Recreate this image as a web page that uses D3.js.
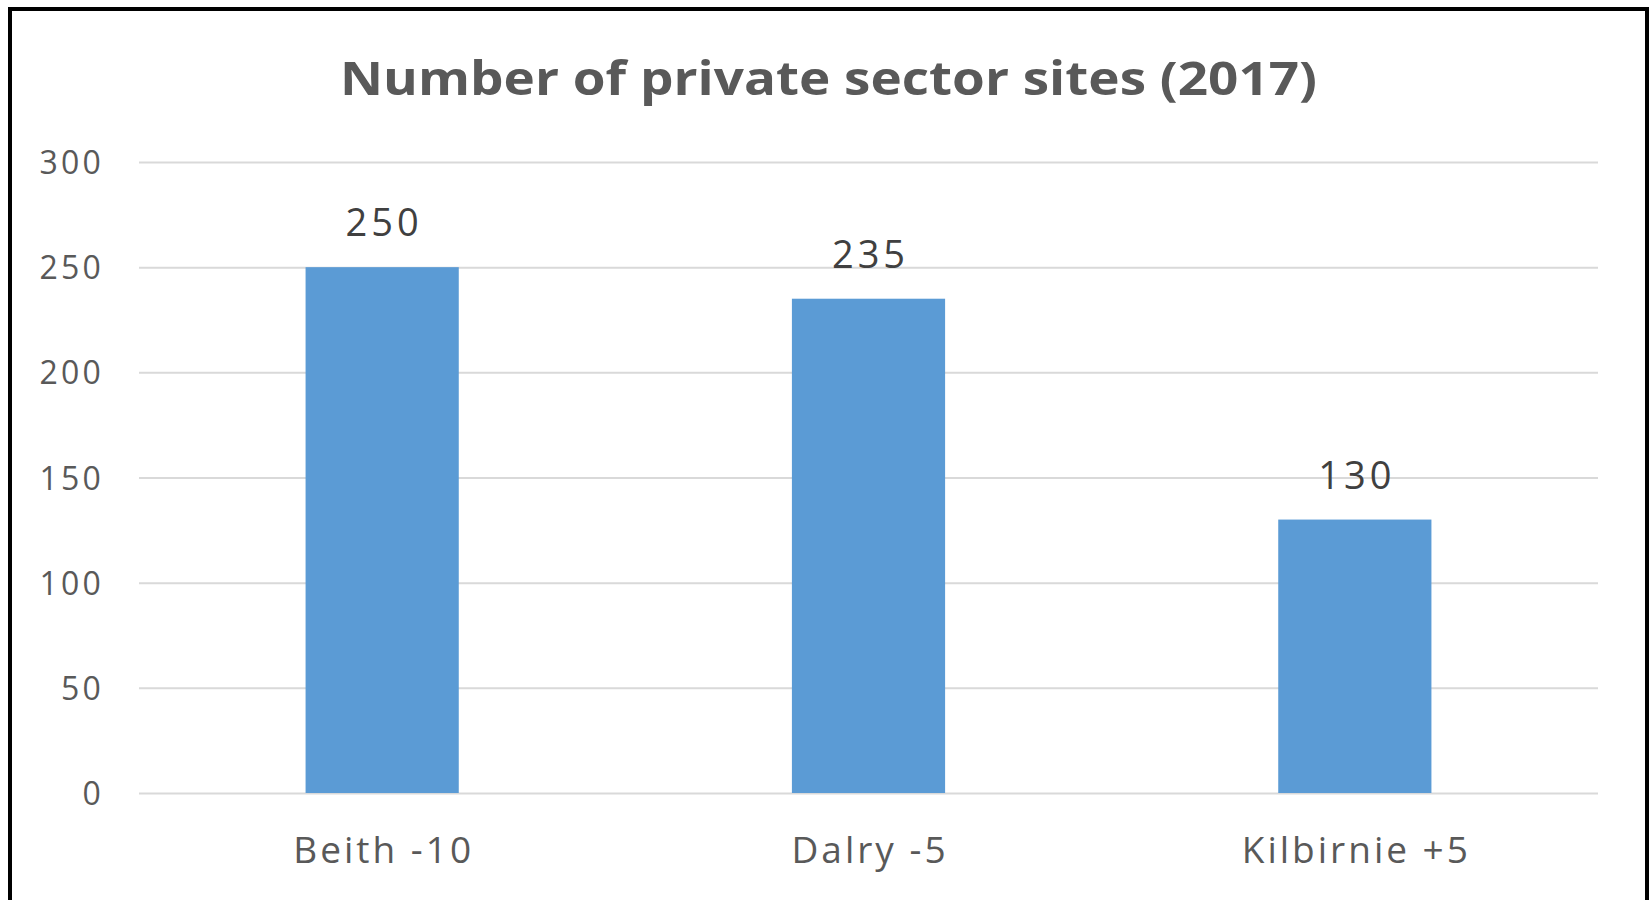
<!DOCTYPE html>
<html>
<head>
<meta charset="utf-8">
<script src="https://cdn.jsdelivr.net/npm/d3@7"></script>
<style>
  html, body { margin: 0; padding: 0; background: #fff; }
  svg { display: block; }
</style>
</head>
<body>
<svg id="chart" width="1649" height="900"></svg>
<script>
const categories = ["Beith -10", "Dalry -5", "Kilbirnie +5"];
const values = [250, 235, 130];
const yTicks = [0, 50, 100, 150, 200, 250, 300];
const titleText = "Number of private sector sites (2017)";

const svg = d3.select("#chart");

// frame
svg.append("rect")
  .attr("x", 10).attr("y", 9)
  .attr("width", 1637).attr("height", 920)
  .attr("fill", "none").attr("stroke", "#000").attr("stroke-width", 4);

const x = d3.scaleBand().domain(categories).range([139, 1598])
  .paddingInner(0.685).paddingOuter(0.3425);
const y = d3.scaleLinear().domain([0, 300]).range([793, 162]);

// gridlines
svg.append("g").selectAll("line").data(yTicks).join("line")
  .attr("x1", 139).attr("x2", 1598)
  .attr("y1", d => y(d) + 0.5).attr("y2", d => y(d) + 0.5)
  .attr("stroke", "#d9d9d9").attr("stroke-width", 2);

// y axis
const yAxis = svg.append("g").attr("transform", "translate(104,0)")
  .call(d3.axisLeft(y).tickValues(yTicks).tickSize(0).tickPadding(0));
yAxis.select(".domain").remove();
yAxis.selectAll("text")
  .attr("font-family", "'Open Sans', sans-serif")
  .attr("font-size", 32)
  .attr("letter-spacing", 3.2)
  .attr("fill", "#595959")
  .attr("dy", "0.36em");

// bars
svg.append("g").selectAll("rect").data(values).join("rect")
  .attr("x", (d, i) => x(categories[i]))
  .attr("width", x.bandwidth())
  .attr("y", d => y(d))
  .attr("height", d => y(0) - y(d))
  .attr("fill", "#5b9bd5");

// data labels
svg.append("g").selectAll("text").data(values).join("text")
  .attr("x", (d, i) => x(categories[i]) + x.bandwidth() / 2 + 2)
  .attr("y", d => y(d) - 31)
  .attr("text-anchor", "middle")
  .attr("font-family", "'Open Sans', sans-serif")
  .attr("font-size", 38)
  .attr("letter-spacing", 4)
  .attr("fill", "#404040")
  .text(d => d);

// x axis
const xAxis = svg.append("g").attr("transform", "translate(0,793)")
  .call(d3.axisBottom(x).tickSize(0).tickPadding(0));
xAxis.select(".domain").remove();
xAxis.selectAll("text")
  .attr("font-family", "'Open Sans', sans-serif")
  .attr("font-size", 37)
  .attr("letter-spacing", 3)
  .attr("fill", "#595959")
  .attr("dy", null)
  .attr("dx", 1.5)
  .attr("y", 70);

// title
svg.append("text")
  .attr("x", (340 + 1317) / 2).attr("y", 95)
  .attr("text-anchor", "middle")
  .attr("font-family", "'Open Sans', sans-serif")
  .attr("font-weight", "bold")
  .attr("font-size", 47)
  .attr("fill", "#595959")
  .attr("textLength", 977)
  .attr("lengthAdjust", "spacingAndGlyphs")
  .text(titleText);
</script>
</body>
</html>
